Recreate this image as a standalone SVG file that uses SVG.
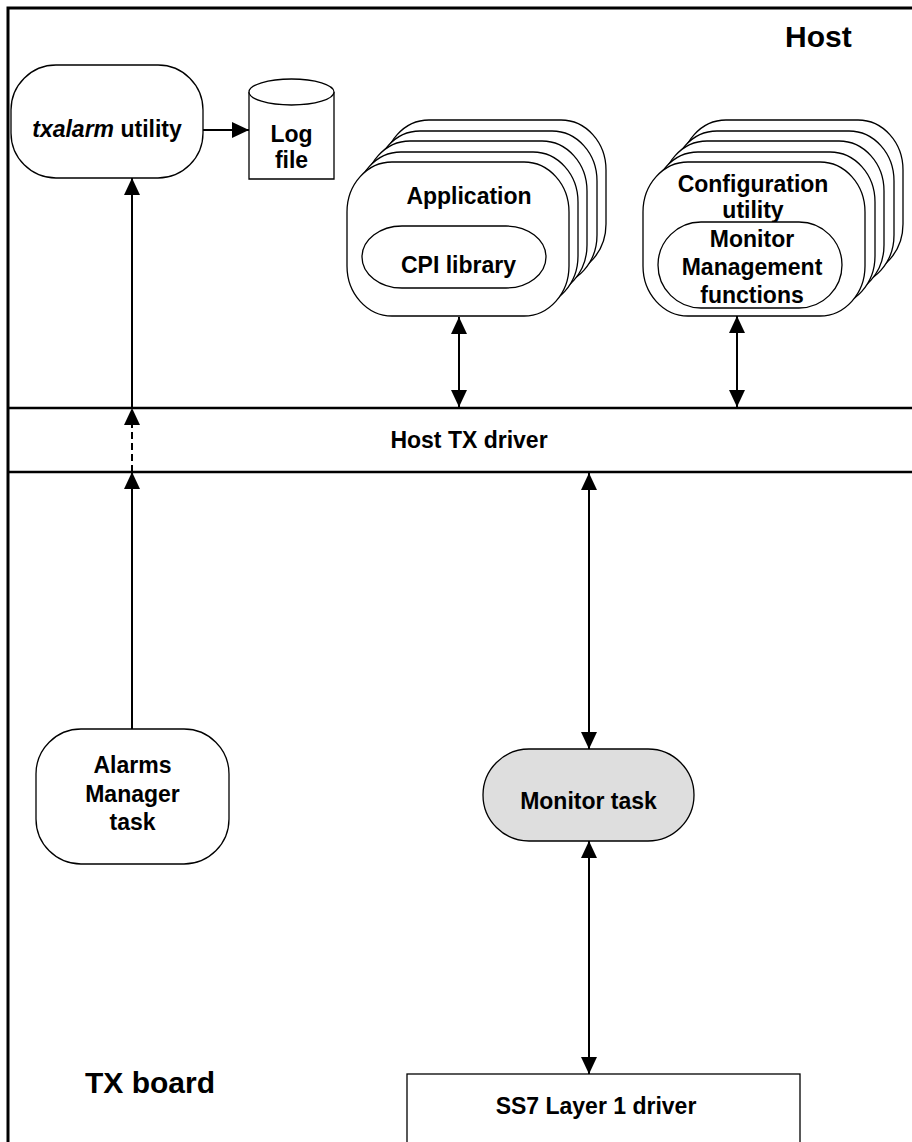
<svg xmlns="http://www.w3.org/2000/svg" width="912" height="1142" viewBox="0 0 912 1142">
  <style>
    .lbl { font-family: "Liberation Sans", Arial, sans-serif; font-weight: bold; font-size: 23px; fill: #000; text-anchor: middle; }
    .big { font-family: "Liberation Sans", Arial, sans-serif; font-weight: bold; font-size: 30px; fill: #000; }
    .shape { fill: #fff; stroke: #000; stroke-width: 1.3; }
    .frame { stroke: #000; stroke-width: 3; fill: none; }
    .band { stroke: #000; stroke-width: 2.5; fill: none; }
    .conn { stroke: #000; stroke-width: 2; fill: none; }
  </style>
  <defs>
    <marker id="arrow" viewBox="0 0 17 16" refX="17" refY="8" markerWidth="17" markerHeight="16" markerUnits="userSpaceOnUse" orient="auto-start-reverse">
      <path d="M0,0 L17,8 L0,16 z" fill="#000"/>
    </marker>
  </defs>

  <rect width="912" height="1142" fill="#fff"/>

  <!-- outer frame and driver band -->
  <g id="frame">
    <path class="frame" d="M8,1142 V8 H912"/>
    <line class="band" x1="8" y1="408" x2="912" y2="408"/>
    <line class="band" x1="8" y1="472" x2="912" y2="472"/>
    <text class="big" x="785" y="47">Host</text>
    <text class="big" x="85" y="1093">TX board</text>
    <text class="lbl" x="469" y="448">Host TX driver</text>
  </g>

  <g id="txalarm">
    <rect class="shape" x="11" y="65" width="192" height="113" rx="45" ry="45"/>
    <text class="lbl" x="107" y="137"><tspan font-style="italic">txalarm</tspan> utility</text>
  </g>

  <g id="logfile">
    <path class="shape" d="M249,92 V179 H334 V92"/>
    <ellipse class="shape" cx="291.5" cy="92" rx="42.5" ry="13"/>
    <text class="lbl" x="291.5" y="142">Log</text>
    <text class="lbl" x="291.5" y="168">file</text>
  </g>

  <g id="application">
    <rect class="shape" x="384" y="120" width="222" height="154" rx="45" ry="50"/>
    <rect class="shape" x="375" y="131" width="222" height="154" rx="45" ry="50"/>
    <rect class="shape" x="365" y="141" width="222" height="154" rx="45" ry="50"/>
    <rect class="shape" x="356" y="152" width="222" height="154" rx="45" ry="50"/>
    <rect class="shape" x="347" y="162" width="222" height="154" rx="45" ry="50"/>
    <text class="lbl" x="469" y="204">Application</text>
    <rect class="shape" x="362" y="226" width="184" height="62" rx="40" ry="31"/>
    <text class="lbl" x="458.5" y="273">CPI library</text>
  </g>

  <g id="configuration">
    <rect class="shape" x="681" y="120" width="222" height="154" rx="45" ry="50"/>
    <rect class="shape" x="672" y="131" width="222" height="154" rx="45" ry="50"/>
    <rect class="shape" x="662" y="141" width="222" height="154" rx="45" ry="50"/>
    <rect class="shape" x="653" y="152" width="222" height="154" rx="45" ry="50"/>
    <rect class="shape" x="643" y="162" width="222" height="154" rx="45" ry="50"/>
    <text class="lbl" x="753" y="192">Configuration</text>
    <text class="lbl" x="753" y="218">utility</text>
    <rect class="shape" x="658" y="222" width="184" height="86" rx="43" ry="43"/>
    <text class="lbl" x="752" y="247">Monitor</text>
    <text class="lbl" x="752" y="275">Management</text>
    <text class="lbl" x="752" y="303">functions</text>
  </g>

  <g id="alarms-manager">
    <rect class="shape" x="36" y="729" width="193" height="135" rx="45" ry="45"/>
    <text class="lbl" x="132.5" y="773">Alarms</text>
    <text class="lbl" x="132.5" y="802">Manager</text>
    <text class="lbl" x="132.5" y="830">task</text>
  </g>

  <g id="monitor-task">
    <rect x="483" y="749" width="211" height="92" rx="46" ry="46" fill="#dedede" stroke="#000" stroke-width="1.3"/>
    <text class="lbl" x="588.5" y="809">Monitor task</text>
  </g>

  <g id="ss7-driver">
    <rect class="shape" x="407" y="1074" width="393" height="80" stroke-width="2"/>
    <text class="lbl" x="596" y="1114">SS7 Layer 1 driver</text>
  </g>

  <g id="connectors">
    <line class="conn" x1="203" y1="130" x2="249" y2="130" marker-end="url(#arrow)"/>
    <line class="conn" x1="132" y1="408" x2="132" y2="178" marker-end="url(#arrow)"/>
    <line class="conn" x1="132" y1="472" x2="132" y2="408" stroke-dasharray="7,4" marker-end="url(#arrow)"/>
    <line class="conn" x1="132" y1="729" x2="132" y2="472" marker-end="url(#arrow)"/>
    <line class="conn" x1="459" y1="317" x2="459" y2="407" marker-start="url(#arrow)" marker-end="url(#arrow)"/>
    <line class="conn" x1="737" y1="316" x2="737" y2="407" marker-start="url(#arrow)" marker-end="url(#arrow)"/>
    <line class="conn" x1="589" y1="473" x2="589" y2="749" marker-start="url(#arrow)" marker-end="url(#arrow)"/>
    <line class="conn" x1="589" y1="841" x2="589" y2="1074" marker-start="url(#arrow)" marker-end="url(#arrow)"/>
  </g>
</svg>
